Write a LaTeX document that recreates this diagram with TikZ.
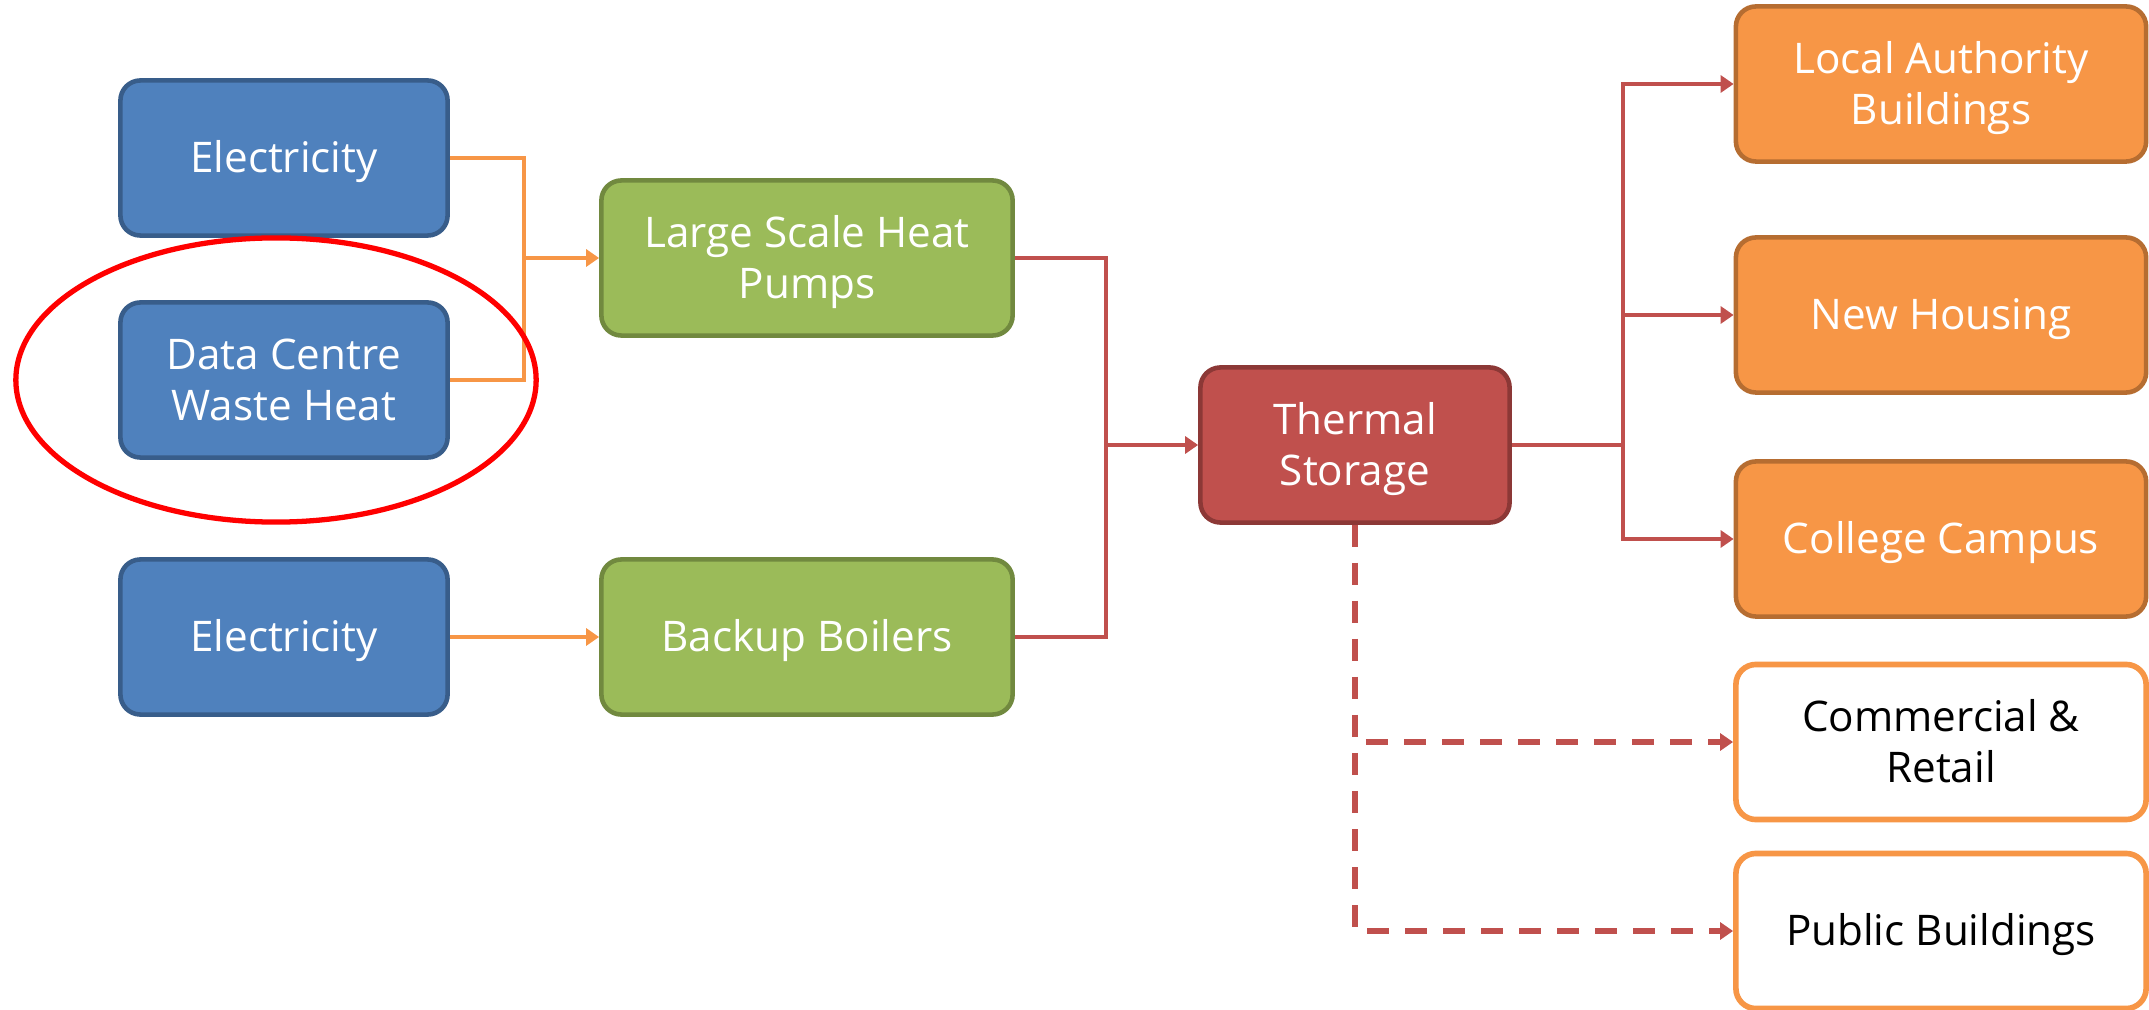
\documentclass[tikz,border=0pt]{standalone}
\usepackage{fontspec}
\setmainfont{Open Sans}
\usetikzlibrary{arrows.meta,positioning,shapes.geometric}

\definecolor{srcfill}{HTML}{4F81BD}
\definecolor{srcline}{HTML}{385D8A}
\definecolor{genfill}{HTML}{9BBB59}
\definecolor{genline}{HTML}{71893F}
\definecolor{tankfill}{HTML}{C0504D}
\definecolor{tankline}{HTML}{8C3836}
\definecolor{usefill}{HTML}{F79646}
\definecolor{useline}{HTML}{B66D31}

\begin{document}
\begin{tikzpicture}[x=0.01cm,y=-0.01cm]
\tikzset{box/.style={draw, rounded corners=0.2cm, line width=1.3pt, minimum height=1.55cm, align=center, text=white, font=\fontsize{12}{14.5}\selectfont, text height=0.40cm, text depth=0.11cm}}
\tikzset{tall/.style={text height=0.91cm}}
\tikzset{src/.style={box, fill=srcfill, draw=srcline, minimum width=3.27cm}}
\tikzset{gen/.style={box, fill=genfill, draw=genline, minimum width=4.11cm}}
\tikzset{tank/.style={box, fill=tankfill, draw=tankline, minimum width=3.09cm}}
\tikzset{use/.style={box, fill=usefill, draw=useline, minimum width=4.1cm}}
\tikzset{maybe/.style={box, fill=white, draw=usefill, text=black, line width=1.6pt, minimum width=4.1cm}}

\useasboundingbox (0,0) rectangle (2149,1010);

% sources, plant and storage
\node [src] (elec1) at (284,158) {Electricity};
\node [src,tall] (dc) at (284,380) {Data Centre\\Waste Heat};
\node [src] (elec2) at (284,637) {Electricity};
\node [gen,tall] (hp) at (807,258) {Large Scale Heat\\Pumps};
\node [gen] (boil) at (807,637) {Backup Boilers};
\node [tank,tall] (store) at (1355,445) {Thermal\\Storage};

% heat users
\node [use,tall] (lab) at (1941,84) {Local Authority\\Buildings};
\node [use] (house) at (1941,315) {New Housing};
\node [use] (campus) at (1941,539) {College Campus};
\node [maybe,tall] (retail) at (1941,742) {Commercial \&\\Retail};
\node [maybe] (pub) at (1941,931) {Public Buildings};

\coordinate (jA) at (524,258);
\coordinate (jB) at (1106,445);
\coordinate (jC) at (1623,445);

\begin{scope}[>={Triangle[length=0.13cm,width=0.17cm]},line width=1.2pt]
\draw[usefill] (elec1.east) -| (jA) |- (dc.east);
\draw[usefill,->] (jA) -- (hp.west);
\draw[usefill,->] (elec2.east) -- (boil.west);
\draw[tankfill] (hp.east) -| (jB) |- (boil.east);
\draw[tankfill,->] (jB) -- (store.west);
\draw[tankfill] (store.east) -- (jC);
\draw[tankfill,->] (jC) |- (lab.west);
\draw[tankfill,->] (jC) |- (house.west);
\draw[tankfill,->] (jC) |- (campus.west);
\draw[tankfill,->,line width=1.6pt,dash pattern=on 0.22cm off 0.16cm] (store.south) |- (retail.west);
\draw[tankfill,->,line width=1.6pt,dash pattern=on 0.22cm off 0.16cm] (store.south) |- (pub.west);
\end{scope}

% ring round the data centre
\node [draw=red, ellipse, line width=1.5pt, minimum width=5.2cm, minimum height=2.84cm] (ring) at (276,380) {};

\end{tikzpicture}
\end{document}
